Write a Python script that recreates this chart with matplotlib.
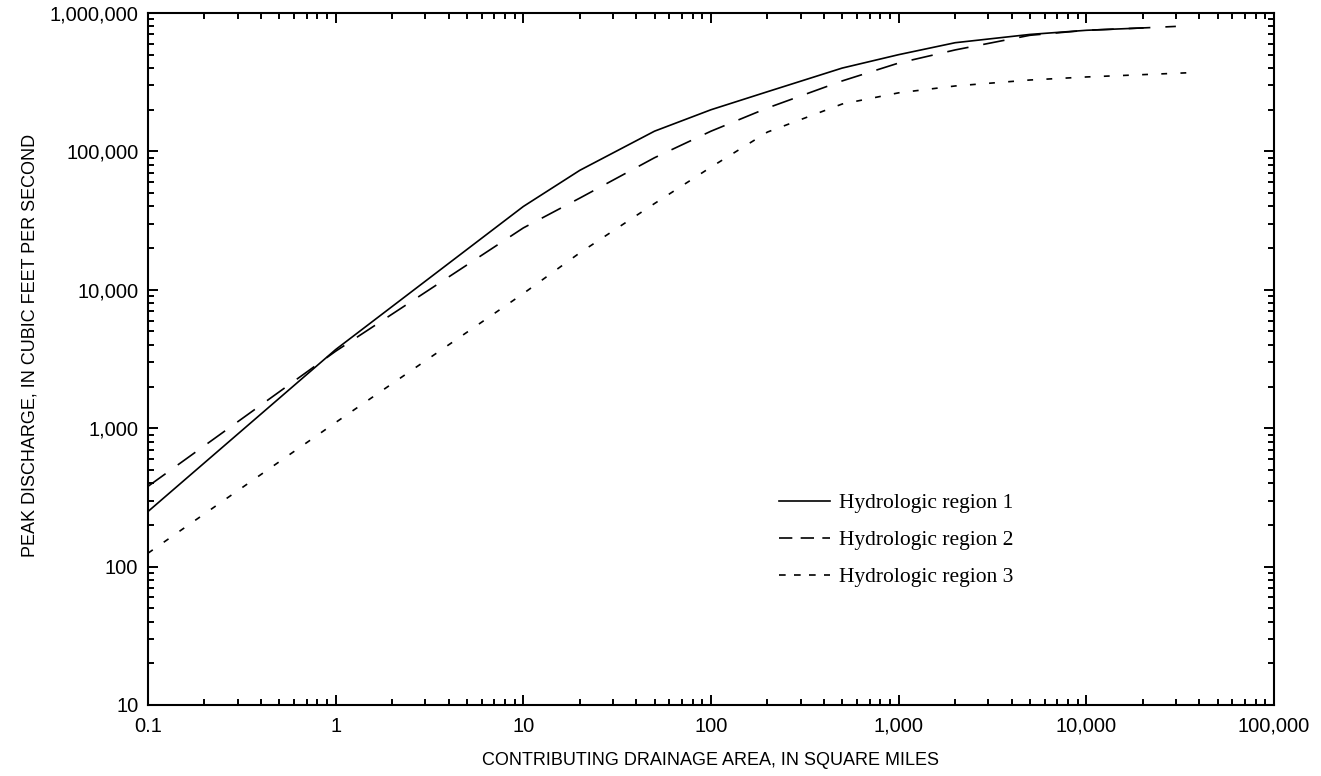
import matplotlib
matplotlib.use("Agg")
import matplotlib.pyplot as plt
from matplotlib.lines import Line2D
from matplotlib.ticker import FixedLocator, FixedFormatter, LogLocator, NullFormatter

plt.rcParams["font.family"] = "Liberation Sans"

# drainage area (sq mi) vs peak discharge (ft3/s)
area_r1 = [0.1, 1, 10, 20, 50, 100, 200, 500, 1000, 2000, 5000, 10000, 20000]
flow_r1 = [250, 3700, 40000, 73000, 140000, 200000, 270000, 400000, 500000,
           610000, 700000, 750000, 780000]

area_r2 = [0.1, 1, 10, 20, 50, 100, 200, 500, 1000, 2000, 5000, 10000, 20000, 30000]
flow_r2 = [380, 3600, 28000, 46000, 90000, 140000, 206000, 323000, 435000,
           541000, 690000, 750000, 780000, 800000]

area_r3 = [0.1, 1, 10, 20, 50, 100, 200, 500, 1000, 2000, 5000, 10000, 35000]
flow_r3 = [125, 1100, 9400, 18500, 42000, 77000, 138000, 220000, 265000,
           297000, 328000, 345000, 370000]

labels = ["Hydrologic region 1", "Hydrologic region 2", "Hydrologic region 3"]

x_ticks = [0.1, 1, 10, 100, 1000, 10000, 100000]
x_ticklabels = ["0.1", "1", "10", "100", "1,000", "10,000", "100,000"]
y_ticks = [10, 100, 1000, 10000, 100000, 1000000]
y_ticklabels = ["10", "100", "1,000", "10,000", "100,000", "1,000,000"]

W, H = 1321, 776
fig = plt.figure(figsize=(W / 100, H / 100), dpi=100)
ax = fig.add_axes([148 / W, 1 - 705 / H, (1274 - 148) / W, (705 - 13) / H])

lw = 1.2
ax.plot(area_r1, flow_r1, color="black", lw=lw, solid_joinstyle="miter")
ax.plot(area_r2, flow_r2, color="black", lw=lw, dashes=(13, 9))
ax.plot(area_r3, flow_r3, color="black", lw=lw, dashes=(3.5, 8))

ax.set_xscale("log")
ax.set_yscale("log")
ax.set_xlim(0.1, 100000)
ax.set_ylim(10, 1000000)

ax.xaxis.set_major_locator(FixedLocator(x_ticks))
ax.xaxis.set_major_formatter(FixedFormatter(x_ticklabels))
ax.yaxis.set_major_locator(FixedLocator(y_ticks))
ax.yaxis.set_major_formatter(FixedFormatter(y_ticklabels))
for axis in (ax.xaxis, ax.yaxis):
    axis.set_minor_locator(LogLocator(base=10, subs=range(2, 10), numticks=20))
    axis.set_minor_formatter(NullFormatter())

for sp in ax.spines.values():
    sp.set_linewidth(1.5)
ax.tick_params(which="both", direction="in", top=True, right=True, width=1.4,
               labelsize=14.5, colors="black")
ax.tick_params(which="major", length=7.5)
ax.tick_params(which="minor", length=4)
ax.tick_params(axis="x", pad=8.5)
ax.tick_params(axis="y", pad=7)

ax.set_xlabel("CONTRIBUTING DRAINAGE AREA, IN SQUARE MILES", fontsize=13)
ax.xaxis.set_label_coords(0.5, -0.068)
ax.set_ylabel("PEAK DISCHARGE, IN CUBIC FEET PER SECOND", fontsize=13)
ax.yaxis.set_label_coords(-0.097, 0.52)

handles = [
    Line2D([], [], color="black", lw=lw),
    Line2D([], [], color="black", lw=lw, dashes=(8, 5)),
    Line2D([], [], color="black", lw=lw, dashes=(4, 5)),
]
ax.legend(handles, labels, loc="upper left", bbox_to_anchor=(0.5604, 0.306),
          frameon=False, borderpad=0, borderaxespad=0, handlelength=2.35,
          handletextpad=0.45, labelspacing=0.78,
          prop={"family": "Liberation Serif", "size": 15.5})

fig.savefig("out.png", dpi=100)
